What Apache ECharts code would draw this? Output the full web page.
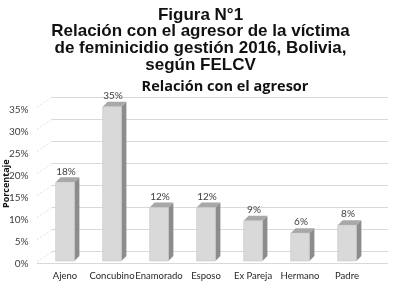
<!DOCTYPE html>
<html><head><meta charset="utf-8">
<script src="https://cdn.jsdelivr.net/npm/echarts@6/dist/echarts.min.js"></script>
<style>html,body{margin:0;padding:0;background:#fff}#c{width:401px;height:284px}</style>
</head><body><div id="c"></div>
<script>
const categories = ['Ajeno','Concubino','Enamorado','Esposo','Ex Pareja','Hermano','Padre'];
const values = [17.8, 34.9, 12.1, 12.1, 9.1, 6.3, 8.1];
const yTicks = [0, 5, 10, 15, 20, 25, 30, 35];
const headerLines = ['Figura N°1', 'Relación con el agresor de la víctima', 'de feminicidio gestión 2016, Bolivia,', 'según FELCV'];
const chartTitle = 'Relación con el agresor';
const axisName = 'Porcentaje';

const DX = 5, DY = 5;
function renderBar(params, api) {
  const i = api.value(0), v = api.value(1);
  const top = api.coord([i, v]);
  const base = api.coord([i, 0]);
  const band = api.size([1, 0])[0];
  const w = band * 0.4;
  const xL = top[0] - w / 2, xR = top[0] + w / 2;
  return {
    type: 'group',
    children: [
      { type: 'polygon', shape: { points: [[xR, top[1]], [xR + DX, top[1] - DY], [xR + DX, base[1] - DY], [xR, base[1]]] }, style: { fill: '#8c8c8c' } },
      { type: 'polygon', shape: { points: [[xL, top[1]], [xL + DX, top[1] - DY], [xR + DX, top[1] - DY], [xR, top[1]]] }, style: { fill: '#a8a8a8' } },
      { type: 'rect', shape: { x: xL, y: top[1], width: w, height: base[1] - top[1] }, style: { fill: '#d9d9d9', stroke: '#c4c4c4', lineWidth: 0.5 } },
      { type: 'text', style: { text: Math.round(v) + '%', x: top[0] + 1, y: top[1] - DY - 1, align: 'center', verticalAlign: 'bottom', fill: '#404040', font: '10px Lato' } }
    ]
  };
}
function renderWall(params, api) {
  const p = api.coord([0, api.value(0)]);
  return { type: 'line', shape: { x1: p[0] - 15, y1: p[1] + 10, x2: p[0], y2: p[1] }, style: { stroke: '#e0e0e0', lineWidth: 1, lineDash: [2, 2] } };
}

const chart = echarts.init(document.getElementById('c'), null, { renderer: 'canvas' });
chart.setOption({
  animation: false,
  backgroundColor: '#ffffff',
  title: [
    { text: headerLines.join('\n'), left: 'center', top: 6.5, padding: 0, textStyle: { fontFamily: 'Liberation Sans', fontWeight: 'bold', fontSize: 17, lineHeight: 16.7, color: '#111' } },
    { text: chartTitle, left: 225, textAlign: 'center', top: 79, padding: 0, textStyle: { fontFamily: 'Open Sans', fontWeight: 'bold', fontSize: 14.5, color: '#111' } }
  ],
  grid: [
    { left: 41.5, right: 30.5, top: 106.3, bottom: 23, containLabel: false, outerBoundsMode: 'none' },
    { left: 52, right: 13, top: 97.3, bottom: 32.3, containLabel: false, outerBoundsMode: 'none' },
    { left: 37, right: 13, top: 100, bottom: 21, containLabel: false, outerBoundsMode: 'none' }
  ],
  xAxis: [
    { type: 'category', gridIndex: 0, data: categories, axisLine: { show: false }, axisTick: { show: false },
      axisLabel: { margin: 10, color: '#262626', fontFamily: 'Lato', fontSize: 9.5, interval: 0 } },
    { type: 'value', gridIndex: 1, min: 0, max: 1, show: false },
    { type: 'category', gridIndex: 2, data: [''], axisLine: { show: true, lineStyle: { color: '#d9d9d9', width: 1 } }, axisTick: { show: false }, axisLabel: { show: false } }
  ],
  yAxis: [
    { type: 'value', gridIndex: 0, min: 0, max: 35, interval: 5,
      name: axisName, nameLocation: 'middle', nameRotate: 90, nameGap: 31, nameMoveOverlap: false,
      nameTextStyle: { fontFamily: 'Open Sans', fontWeight: 'bold', fontSize: 9, color: '#111' },
      axisLine: { show: false }, axisTick: { show: false }, splitLine: { show: false },
      axisLabel: { formatter: '{value}%', margin: 13, verticalAlign: 'top', lineHeight: 6, color: '#404040', fontFamily: 'Lato', fontSize: 10 } },
    { type: 'value', gridIndex: 1, min: 0, max: 35, interval: 5, axisLine: { show: false }, axisTick: { show: false }, axisLabel: { show: false },
      splitLine: { show: true, lineStyle: { color: '#d9d9d9', width: 1 } } },
    { type: 'value', gridIndex: 2, show: false }
  ],
  series: [
    { type: 'custom', xAxisIndex: 1, yAxisIndex: 1, data: yTicks, renderItem: renderWall, silent: true, z: 1 },
    { type: 'custom', xAxisIndex: 0, yAxisIndex: 0, data: values.map((v, i) => [i, v]), renderItem: renderBar, z: 5 }
  ]
});
</script></body></html>
